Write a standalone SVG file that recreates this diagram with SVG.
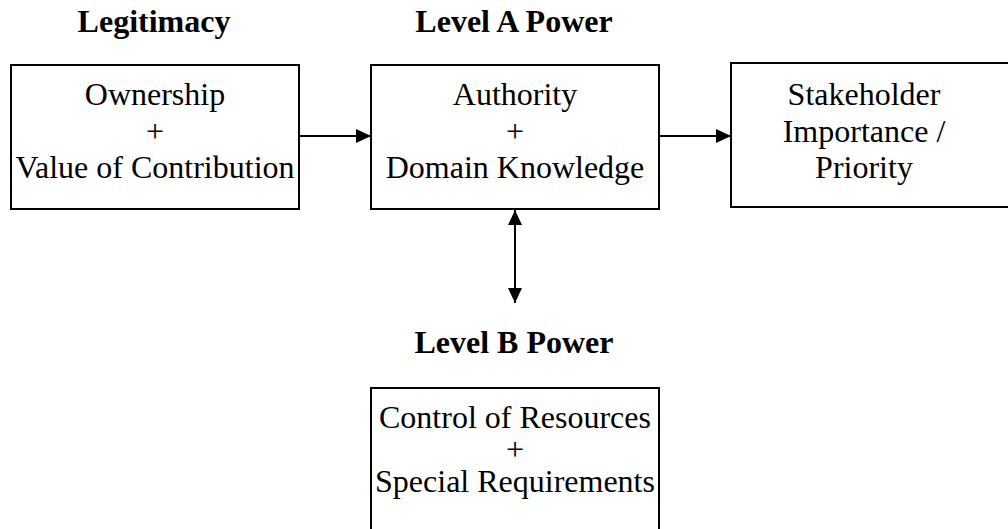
<svg xmlns="http://www.w3.org/2000/svg" width="1008" height="529" viewBox="0 0 1008 529">
  <style>
    .box { fill: #ffffff; stroke: #000000; stroke-width: 2; }
    .label { font-family: "Liberation Serif", "Times New Roman", serif; font-size: 32px; fill: #000000; text-anchor: middle; }
    .head { font-family: "Liberation Serif", "Times New Roman", serif; font-size: 32px; font-weight: bold; fill: #000000; text-anchor: middle; }
    .link { stroke: #000000; stroke-width: 2; fill: none; }
  </style>
  <defs>
    <marker id="arrow" viewBox="0 0 15 14" refX="15" refY="7" markerWidth="15" markerHeight="14" markerUnits="userSpaceOnUse" orient="auto-start-reverse">
      <path d="M0,0 L15,7 L0,14 Z" fill="#000000"/>
    </marker>
  </defs>
  <rect width="1008" height="529" fill="#ffffff"/>

  <!-- section headings -->
  <g id="headings">
    <text class="head" x="154" y="32">Legitimacy</text>
    <text class="head" x="514" y="32">Level A Power</text>
    <text class="head" x="514" y="353">Level B Power</text>
  </g>

  <g id="legitimacy">
    <rect class="box" x="11" y="65" width="288" height="144"/>
    <text class="label" x="155" y="105">Ownership<tspan x="155" dy="36.5">+</tspan><tspan x="155" dy="36.5">Value of Contribution</tspan></text>
  </g>

  <g id="level-a">
    <rect class="box" x="371" y="65" width="288" height="144"/>
    <text class="label" x="515" y="105">Authority<tspan x="515" dy="36.5">+</tspan><tspan x="515" dy="36.5">Domain Knowledge</tspan></text>
  </g>

  <g id="importance">
    <rect class="box" x="731" y="63" width="300" height="144"/>
    <text class="label" x="864" y="105">Stakeholder<tspan x="864" dy="36.5">Importance /</tspan><tspan x="864" dy="36.5">Priority</tspan></text>
  </g>

  <g id="level-b">
    <rect class="box" x="371" y="388" width="288" height="160"/>
    <text class="label" x="515" y="427.5">Control of Resources<tspan x="515" dy="32">+</tspan><tspan x="515" dy="32">Special Requirements</tspan></text>
  </g>

  <g id="connectors">
    <line class="link" x1="299" y1="136" x2="371" y2="136" marker-end="url(#arrow)"/>
    <line class="link" x1="659" y1="136" x2="731" y2="136" marker-end="url(#arrow)"/>
    <line class="link" x1="515" y1="210" x2="515" y2="303" marker-start="url(#arrow)" marker-end="url(#arrow)"/>
  </g>
</svg>
